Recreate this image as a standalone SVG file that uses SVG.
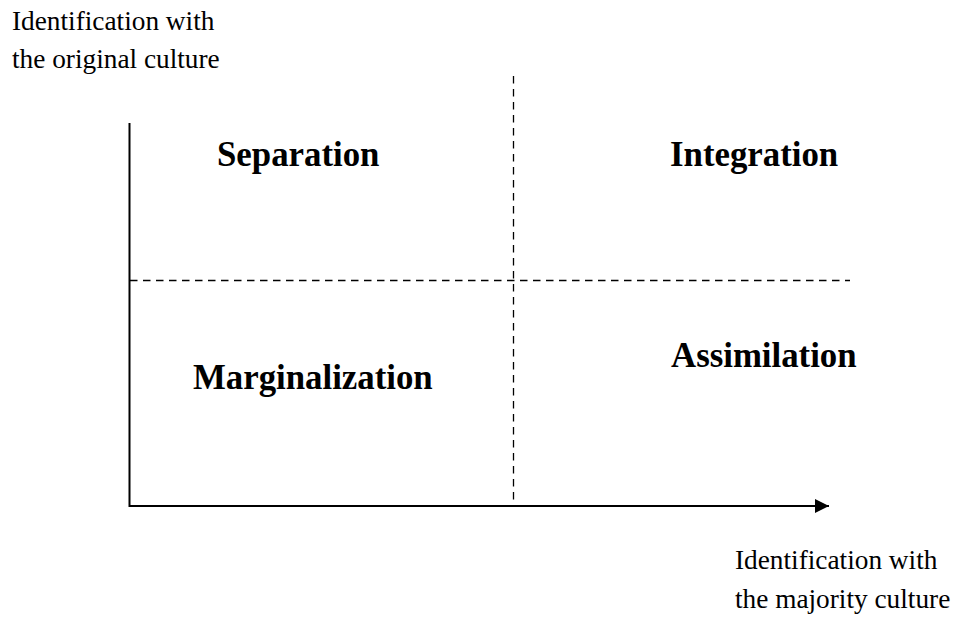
<svg xmlns="http://www.w3.org/2000/svg" width="960" height="620" viewBox="0 0 960 620">
  <style>
    .axis { stroke: #000; stroke-width: 2; fill: none; }
    .grid { stroke: #000; stroke-width: 1.3; stroke-dasharray: 7.5 5.5; fill: none; }
    .note { font-family: "Liberation Serif", "Times New Roman", serif; font-size: 27.3px; fill: #000; }
    .quad { font-family: "Liberation Serif", "Times New Roman", serif; font-size: 34.8px; font-weight: bold; fill: #000; }
  </style>
  <defs>
    <marker id="arrow" markerUnits="userSpaceOnUse" markerWidth="16" markerHeight="16" refX="14" refY="7" orient="auto">
      <path d="M0,0 L14,7 L0,14 Z" fill="#000"/>
    </marker>
  </defs>
  <rect width="960" height="620" fill="#fff"/>

  <g id="connectors">
    <line class="grid" x1="513.5" y1="76" x2="513.5" y2="506"/>
    <line class="grid" x1="130" y1="280.5" x2="850" y2="280.5"/>
    <polyline class="axis" points="129.5,123 129.5,506 829,506" marker-end="url(#arrow)"/>
  </g>

  <g id="y-axis-label">
    <text class="note" x="12" y="30">Identification with</text>
    <text class="note" x="12" y="68">the original culture</text>
  </g>
  <g id="x-axis-label">
    <text class="note" x="735" y="569">Identification with</text>
    <text class="note" x="735" y="608">the majority culture</text>
  </g>

  <g id="separation"><text class="quad" x="217" y="166">Separation</text></g>
  <g id="integration"><text class="quad" x="670" y="166">Integration</text></g>
  <g id="marginalization"><text class="quad" x="193" y="389">Marginalization</text></g>
  <g id="assimilation"><text class="quad" x="671" y="367">Assimilation</text></g>
</svg>
